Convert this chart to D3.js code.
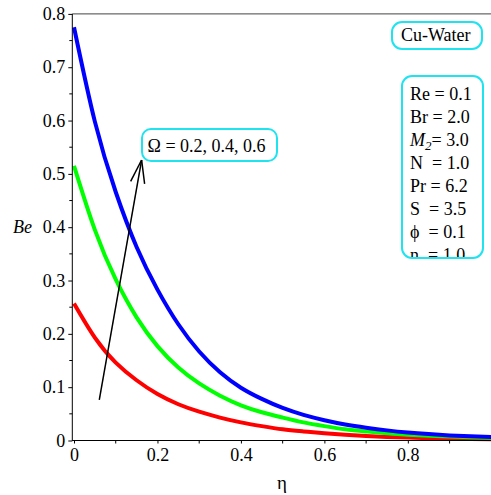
<!DOCTYPE html>
<html>
<head>
<meta charset="utf-8">
<script src="https://cdn.jsdelivr.net/npm/d3@7"></script>
<style>
  body { margin: 0; background: #fff; }
  svg { display: block; }
  text { font-family: "Liberation Serif", "Times New Roman", serif; }
</style>
</head>
<body>
<svg width="491" height="495"></svg>
<script>
// eta grid and Bejan number curves for Omega = 0.2, 0.4, 0.6
var eta = [0, 0.05, 0.1, 0.15, 0.2, 0.25, 0.3, 0.35, 0.4, 0.45, 0.5,
           0.55, 0.6, 0.65, 0.7, 0.75, 0.8, 0.85, 0.9, 0.95, 1.0];
var beOmega02 = [0.257, 0.193, 0.146, 0.113, 0.087, 0.068, 0.054, 0.043, 0.034, 0.027, 0.021,
                 0.017, 0.0135, 0.0106, 0.0084, 0.0067, 0.0054, 0.0044, 0.0036, 0.003, 0.0025];
var beOmega04 = [0.515, 0.395, 0.302, 0.231, 0.177, 0.137, 0.107, 0.084, 0.066, 0.053, 0.043,
                 0.034, 0.027, 0.021, 0.017, 0.0136, 0.0109, 0.0089, 0.0073, 0.006, 0.005];
var beOmega06 = [0.775, 0.598, 0.466, 0.363, 0.283, 0.218, 0.167, 0.128, 0.099, 0.078, 0.061,
                 0.048, 0.038, 0.030, 0.024, 0.019, 0.015, 0.012, 0.0096, 0.0079, 0.0065];
var seriesColors = ["#ff0000", "#00ff00", "#0000ff"];

var xTicks = [0, 0.2, 0.4, 0.6, 0.8];
var xMinor = [0.1, 0.3, 0.5, 0.7, 0.9];
var yTicks = [0, 0.1, 0.2, 0.3, 0.4, 0.5, 0.6, 0.7, 0.8];
var yMinor = [0.05, 0.15, 0.25, 0.35, 0.45, 0.55, 0.65, 0.75];

var arrowFrom = [0.0606, 0.076];
var arrowTo = [0.162, 0.526];

var paramLines = ["Re = 0.1", "Br = 2.0", "M2", "N  = 1.0", "Pr = 6.2", "S  = 3.5", "\u03d5  = 0.1", "n  = 1.0"];

var svg = d3.select("svg");
var plotLeft = 72.3, plotRight = 491.3, plotTop = 13.9, plotBottom = 440.5;

var x = d3.scaleLinear().domain([0, 1]).range([74, plotRight]);
var y = d3.scaleLinear().domain([0, 0.8]).range([plotBottom, plotTop]);
var cyan = "#1fe3ef";

// frame top
svg.append("line").attr("x1", plotLeft).attr("x2", 491).attr("y1", plotTop).attr("y2", plotTop)
    .attr("stroke", "#444").attr("stroke-width", 1);

// curves
var line = d3.line()
    .x(function(d) { return x(d[0]); })
    .y(function(d) { return y(d[1]); })
    .curve(d3.curveNatural);

[beOmega02, beOmega04, beOmega06].forEach(function(s, i) {
  svg.append("path")
      .datum(eta.map(function(e, j) { return [e, s[j]]; }))
      .attr("fill", "none")
      .attr("stroke", seriesColors[i])
      .attr("stroke-width", 4)
      .attr("d", line);
});

// axes
var fmt = function(d) { return d === 0 ? "0" : d3.format(".1f")(d); };

var gx = svg.append("g").attr("transform", "translate(0," + plotBottom + ")");
gx.call(d3.axisBottom(x).tickValues(xTicks).tickSize(3).tickSizeOuter(0).tickFormat(fmt));
gx.selectAll(".minor").data(xMinor).enter().append("line")
    .attr("class", "minor")
    .attr("x1", function(d) { return x(d); }).attr("x2", function(d) { return x(d); })
    .attr("y1", 0).attr("y2", 3).attr("stroke", "#000");
gx.select(".domain").attr("d", "M" + plotLeft + ",0H491");

var gy = svg.append("g").attr("transform", "translate(" + plotLeft + ",0)");
gy.call(d3.axisLeft(y).tickValues(yTicks).tickSize(4).tickSizeOuter(0).tickFormat(fmt));
gy.selectAll(".minor").data(yMinor).enter().append("line")
    .attr("class", "minor")
    .attr("x1", 0).attr("x2", -3)
    .attr("y1", function(d) { return y(d); }).attr("y2", function(d) { return y(d); })
    .attr("stroke", "#000");
gy.select(".domain").attr("d", "M0," + plotTop + "V" + (plotBottom + 0.5));

svg.selectAll(".tick text")
    .style("font-family", "'Liberation Serif', serif")
    .style("font-size", "18px")
    .attr("fill", "#000");
gx.selectAll(".tick text").attr("dy", "0.71em").attr("y", 8);
gy.selectAll(".tick text").attr("x", -7);

svg.append("text").attr("x", 282).attr("y", 489).attr("text-anchor", "middle")
    .style("font-size", "19px").text("\u03b7");
svg.append("text").attr("x", 13).attr("y", 233)
    .style("font-size", "18px").style("font-style", "italic").text("Be");

// arrow
var ax0 = x(arrowFrom[0]), ay0 = y(arrowFrom[1]);
var ax1 = x(arrowTo[0]), ay1 = y(arrowTo[1]);
svg.append("line").attr("x1", ax0).attr("y1", ay0).attr("x2", ax1).attr("y2", ay1)
    .attr("stroke", "#000").attr("stroke-width", 1.5);
var ang = Math.atan2(ay1 - ay0, ax1 - ax0);
[-0.3, 0.3].forEach(function(o) {
  svg.append("line").attr("x1", ax1).attr("y1", ay1)
      .attr("x2", ax1 - 24 * Math.cos(ang + o)).attr("y2", ay1 - 24 * Math.sin(ang + o))
      .attr("stroke", "#000").attr("stroke-width", 1.5);
});

// label boxes
function box(bx, by, bw, bh, r) {
  svg.append("rect").attr("x", bx).attr("y", by).attr("width", bw).attr("height", bh)
      .attr("rx", r).attr("fill", "#fff").attr("stroke", cyan).attr("stroke-width", 2);
}
box(142, 129, 135, 32, 9);
svg.append("text").attr("x", 147.5).attr("y", 152).style("font-size", "18px")
    .text("\u03a9 = 0.2, 0.4, 0.6");

box(392, 22, 90, 27, 10);
svg.append("text").attr("x", 401).attr("y", 41).style("font-size", "18px").text("Cu-Water");

box(402, 76, 81, 182, 10);
svg.append("clipPath").attr("id", "pclip").append("rect")
    .attr("x", 402).attr("y", 76).attr("width", 81).attr("height", 181);
var pg = svg.append("g").attr("clip-path", "url(#pclip)");
paramLines.forEach(function(t, i) {
  var tx = pg.append("text").attr("x", 410).attr("y", 100 + i * 23)
      .style("font-size", "18px").style("white-space", "pre");
  if (t === "M2") {
    tx.append("tspan").style("font-style", "italic").text("M");
    tx.append("tspan").style("font-style", "italic").style("font-size", "13px")
        .attr("dy", 4).text("2");
    tx.append("tspan").attr("dy", -4).text("= 3.0");
  } else {
    tx.text(t);
  }
});
</script>
</body>
</html>
